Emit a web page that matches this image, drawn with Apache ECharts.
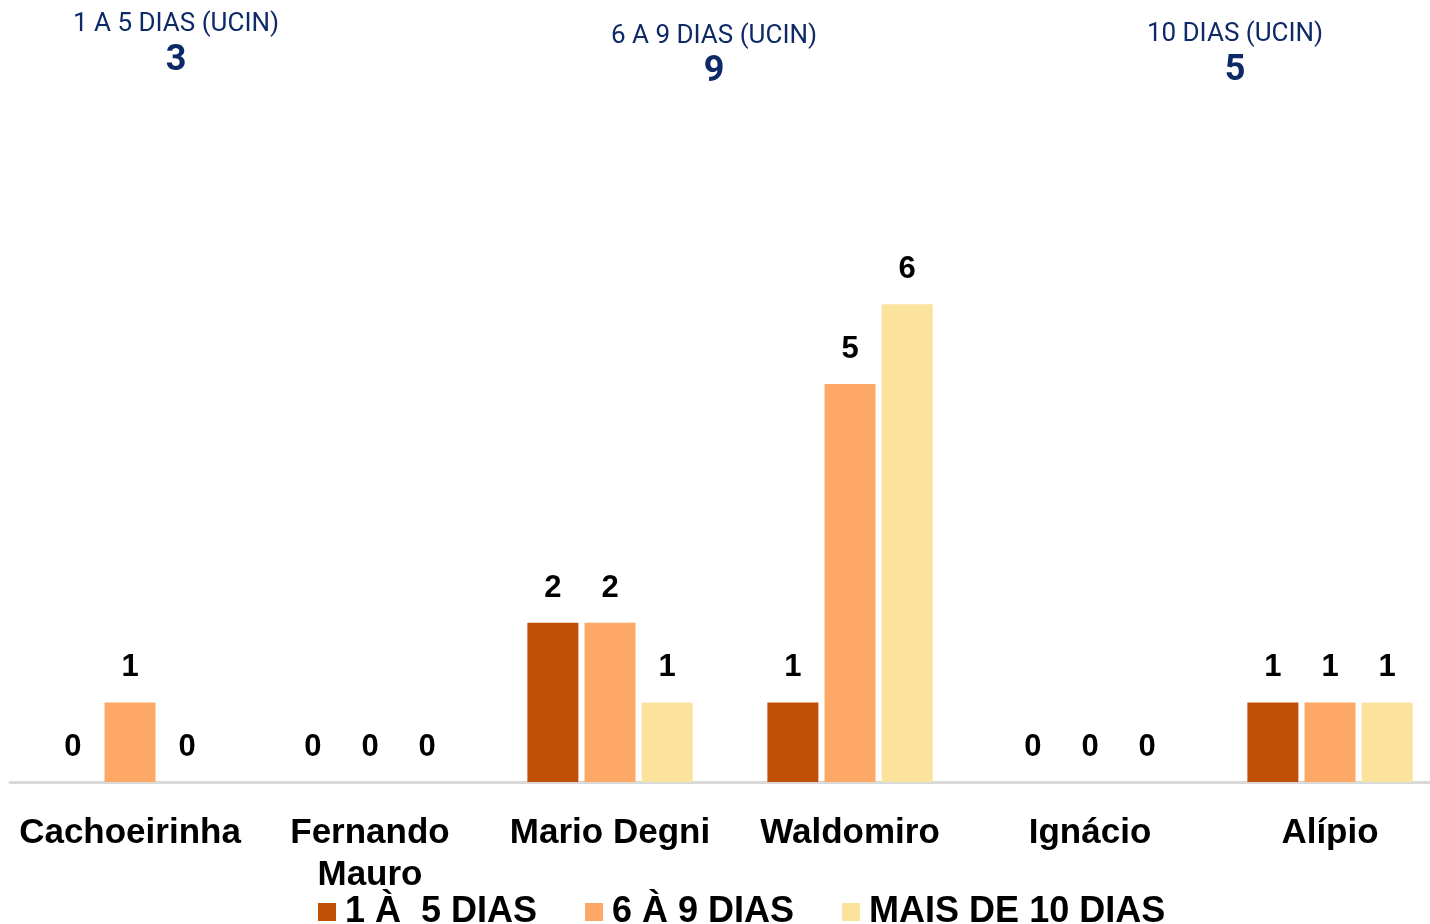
<!DOCTYPE html>
<html>
<head>
<meta charset="utf-8">
<script src="https://cdn.jsdelivr.net/npm/echarts@6/dist/echarts.min.js"></script>
<style>
  html, body { margin: 0; padding: 0; background: #fff; }
  #chart { width: 1430px; height: 924px; }
</style>
</head>
<body>
<div id="chart"></div>
<script>
// dados do gráfico
var categories = ['Cachoeirinha', 'Fernando\nMauro', 'Mario Degni', 'Waldomiro', 'Ignácio', 'Alípio'];
var seriesNames = ['1 À  5 DIAS', '6 À 9 DIAS', 'MAIS DE 10 DIAS'];
var dias1a5 = [0, 0, 2, 1, 0, 1];
var dias6a9 = [1, 0, 2, 5, 0, 1];
var dias10 = [0, 0, 1, 6, 0, 1];

// totais UCIN no topo
var headerLabels = ['1 A 5 DIAS (UCIN)', '6 A 9 DIAS (UCIN)', '10 DIAS (UCIN)'];
var headerValues = ['3', '9', '5'];

var colors = ['#C05106', '#FDA866', '#FBE29D'];
var navy = '#0E2A66';

var dom = document.getElementById('chart');
var myChart = echarts.init(dom);

var headerPos = [[176, 24, 61], [714, 36, 72], [1235, 34, 71]];
var graphics = [];
headerLabels.forEach(function (txt, i) {
    graphics.push({
        type: 'text', x: headerPos[i][0], y: headerPos[i][1],
        style: { text: txt, fill: navy, font: '26px Roboto', textAlign: 'center', textVerticalAlign: 'middle' }
    });
    graphics.push({
        type: 'text', x: headerPos[i][0], y: headerPos[i][2],
        style: { text: headerValues[i], fill: navy, font: 'bold 36px Roboto', textAlign: 'center', textVerticalAlign: 'middle' }
    });
});

function barSeries(name, data, color) {
    return {
        name: name,
        type: 'bar',
        data: data,
        barWidth: 51,
        barGap: '12%',
        itemStyle: { color: color },
        label: {
            show: true,
            position: 'top',
            distance: 19,
            color: '#000',
            fontFamily: 'Liberation Sans',
            fontWeight: 'bold',
            fontSize: 31
        }
    };
}

var option = {
    animation: false,
    backgroundColor: '#fff',
    color: colors,
    graphic: graphics,
    grid: { left: 10, right: -20, top: 145, bottom: 142, containLabel: false, outerBoundsMode: 'none' },
    legend: {
        data: seriesNames,
        left: 313,
        top: 889,
        itemWidth: 18,
        itemHeight: 18,
        itemGap: 48,
        icon: 'rect',
        textStyle: {
            color: '#000', fontFamily: 'Liberation Sans', fontWeight: 'bold', fontSize: 36,
            padding: [0, 0, 0, 4]
        }
    },
    xAxis: {
        type: 'category',
        data: categories,
        axisLine: { lineStyle: { color: '#D9D9D9', width: 3 } },
        axisTick: { show: false },
        axisLabel: {
            margin: 30,
            color: '#000',
            fontFamily: 'Liberation Sans',
            fontWeight: 'bold',
            fontSize: 35,
            lineHeight: 42,
            interval: 0
        }
    },
    yAxis: {
        type: 'value',
        min: 0,
        max: 8,
        show: false,
        splitLine: { show: false }
    },
    series: [
        barSeries(seriesNames[0], dias1a5, colors[0]),
        barSeries(seriesNames[1], dias6a9, colors[1]),
        barSeries(seriesNames[2], dias10, colors[2])
    ]
};

myChart.setOption(option);
</script>
</body>
</html>
